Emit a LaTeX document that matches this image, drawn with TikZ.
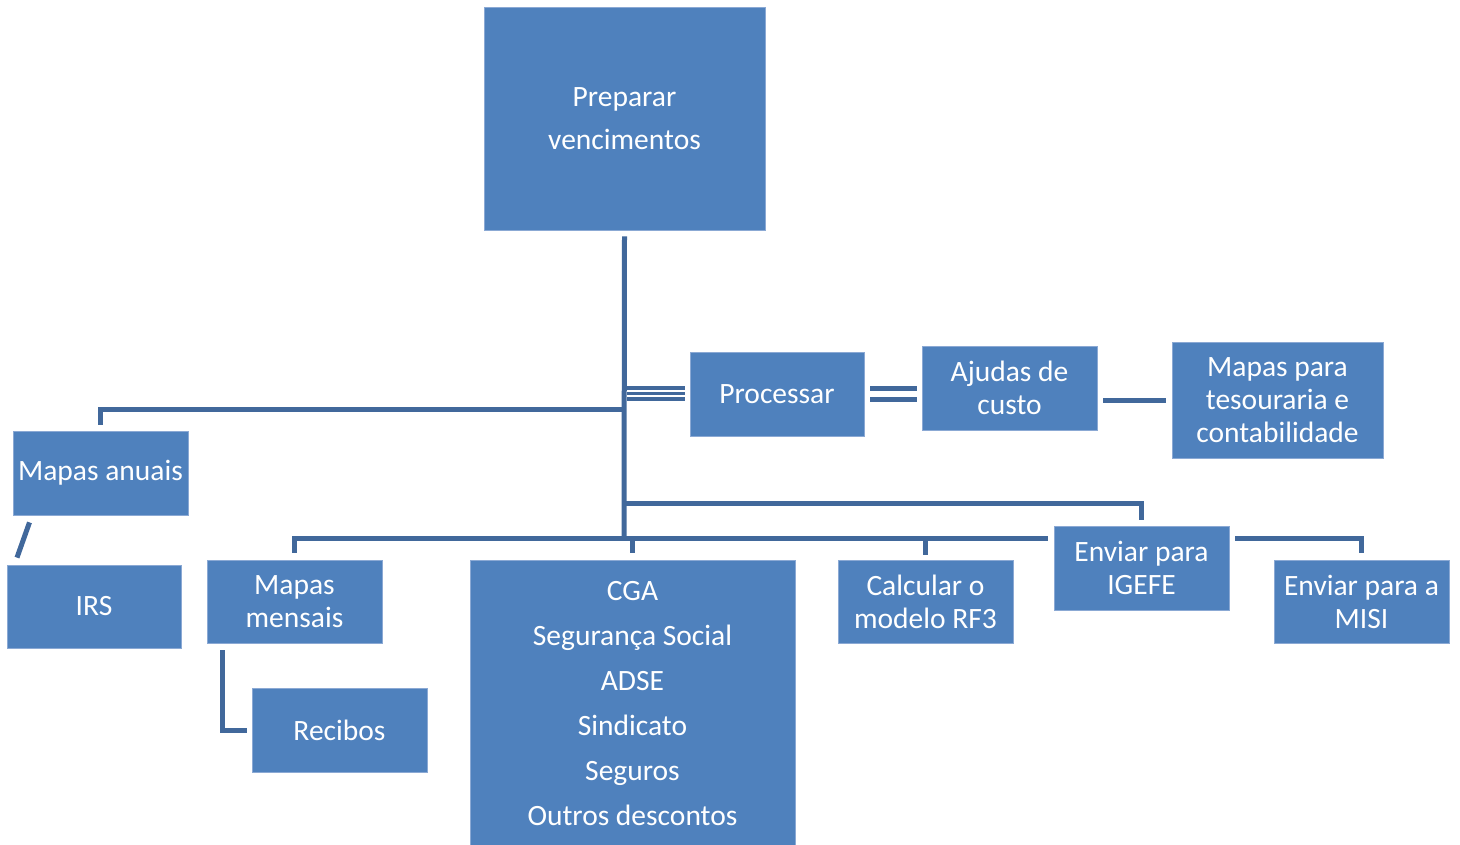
\documentclass[tikz,border=0pt]{standalone}
\usepackage{fontspec}
\setmainfont{Carlito}
\usetikzlibrary{calc}
\definecolor{boxblue}{HTML}{4F81BD}
\definecolor{lineblue}{HTML}{41689B}
\definecolor{edgeblue}{HTML}{8BA9D4}
\begin{document}
\begin{tikzpicture}[x=1pt,y=-1pt,
  box/.style={fill=boxblue,draw=edgeblue,line width=0.8pt,text=white,align=center,inner sep=0pt,
    font=\fontsize{29.5}{33}\selectfont},
  conn/.style={draw=lineblue,line width=5pt},
  thin3/.style={draw=lineblue,line width=3.5pt}]
\useasboundingbox (0,0) rectangle (1460,845);
% boxes
\node[box,minimum width=281pt,minimum height=223pt,font=\fontsize{29.5}{43}\selectfont] (prep) at (624.5,118.5) {Preparar\\vencimentos};
\node[box,minimum width=174pt,minimum height=84pt] (proc) at (777,394) {Processar};
\node[box,minimum width=175pt,minimum height=84pt] (ajud) at (1009.5,388) {Ajudas de\\custo};
\node[box,minimum width=211pt,minimum height=116pt] (mapt) at (1277.5,400) {Mapas para\\tesouraria e\\contabilidade};
\node[box,minimum width=175pt,minimum height=84pt] (anuais) at (100.5,473) {Mapas anuais};
\node[box,minimum width=174pt,minimum height=83pt] (irs) at (94,606.5) {IRS};
\node[box,minimum width=175pt,minimum height=83pt] (mens) at (294.5,601.5) {Mapas\\mensais};
\node[box,minimum width=175pt,minimum height=84pt] (rec) at (339.5,730) {Recibos};
\node[box,minimum width=325pt,minimum height=288pt,font=\fontsize{29.5}{45}\selectfont] (cga) at (632.5,704) {CGA\\Segurança Social\\ADSE\\Sindicato\\Seguros\\Outros descontos};
\node[box,minimum width=175pt,minimum height=83pt] (calc) at (925.5,601.5) {Calcular o\\modelo RF3};
\node[box,minimum width=175pt,minimum height=84pt] (igefe) at (1141.5,568) {Enviar para\\IGEFE};
\node[box,minimum width=175pt,minimum height=83pt] (misi) at (1361.5,601.5) {Enviar para a\\MISI};
% junction coordinates
\coordinate (jA) at (624,409);
\coordinate (jI) at (624,503);
\coordinate (jBus) at (624,538);
% trunk
\draw[conn] ([yshift=-6pt]prep.south) -- (jBus);
% Mapas anuais
\draw[conn] (jA) -| ([xshift=-0.5pt,yshift=6pt]anuais.north);
\draw[conn] ([xshift=-71pt,yshift=-7pt]anuais.south) -- ([xshift=-77pt,yshift=7pt]irs.north);
% Processar triple line
\coordinate (p3) at (627,393.5);
\draw[thin3] ([yshift=5.5pt]p3) -- ([xshift=-5pt,yshift=5.5pt]proc.west |- p3);
\draw[thin3] (p3) -- ([xshift=-5pt]proc.west |- p3);
\draw[thin3] ([yshift=-5.5pt]p3) -- ([xshift=-5pt,yshift=-5.5pt]proc.west |- p3);
% double line to Ajudas
\draw[conn] ([xshift=6pt,yshift=5.5pt]proc.east) -- ([xshift=-5pt,yshift=5.5pt]proc.east -| ajud.west);
\draw[conn] ([xshift=6pt,yshift=-5.5pt]proc.east) -- ([xshift=-5pt,yshift=-5.5pt]proc.east -| ajud.west);
% Ajudas to Mapas para
\draw[conn] ([xshift=6pt,yshift=-12pt]ajud.east) -- ([xshift=-6pt]mapt.west);
% IGEFE
\draw[conn] (jI) -| ([xshift=-0.5pt,yshift=6pt]igefe.north);
% bottom bus
\draw[conn] ([xshift=-0.5pt,yshift=7pt]mens.north) |- ([xshift=-6pt]igefe.west |- jBus);
\draw[conn] (cga.north |- jBus) -- ([yshift=7pt]cga.north);
\draw[conn] (calc.north |- jBus) -- ([yshift=5pt]calc.north);
% MISI
\draw[conn] ([xshift=6pt]igefe.east |- jBus) -| ([xshift=-0.5pt,yshift=7pt]misi.north);
% Recibos
\draw[conn] ([xshift=-72pt,yshift=-7pt]mens.south) |- ([xshift=-5pt]rec.west);
\end{tikzpicture}
\end{document}
